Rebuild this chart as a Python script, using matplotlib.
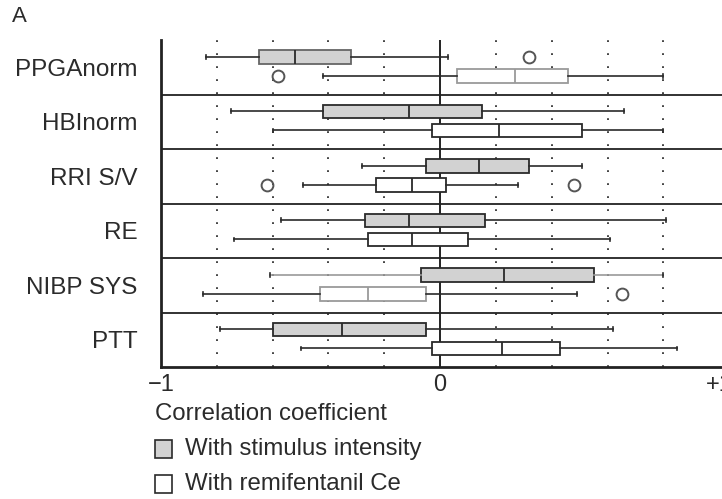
# boxplots of correlation coefficients, one pair of boxes per parameter
import matplotlib
matplotlib.use('Agg')
import matplotlib.pyplot as plt
from matplotlib.patches import Rectangle

plt.rcParams['font.family'] = ['Liberation Sans', 'DejaVu Sans']

# data
parametros = ['PPGAnorm', 'HBInorm', 'RRI S/V', 'RE', 'NIBP SYS', 'PTT']

# with stimulus intensity (gray): whisker low, q1, median, q3, whisker high
estim_wlo = [-0.84, -0.75, -0.28, -0.57, -0.61, -0.79]
estim_q1 = [-0.65, -0.42, -0.05, -0.27, -0.07, -0.60]
estim_med = [-0.52, -0.11, 0.14, -0.11, 0.23, -0.35]
estim_q3 = [-0.32, 0.15, 0.32, 0.16, 0.55, -0.05]
estim_whi = [0.03, 0.66, 0.51, 0.81, 0.80, 0.62]
estim_fliers = [[0.32], [], [], [], [], []]

# with remifentanil Ce (white)
remi_wlo = [-0.42, -0.60, -0.49, -0.74, -0.85, -0.50]
remi_q1 = [0.06, -0.03, -0.23, -0.26, -0.43, -0.03]
remi_med = [0.27, 0.21, -0.10, -0.10, -0.26, 0.22]
remi_q3 = [0.46, 0.51, 0.02, 0.10, -0.05, 0.43]
remi_whi = [0.80, 0.80, 0.28, 0.61, 0.49, 0.85]
remi_fliers = [[-0.58], [], [-0.62, 0.48], [], [0.65], []]

rejilla = [-0.8, -0.6, -0.4, -0.2, 0.2, 0.4, 0.6, 0.8]

gris = '#d2d2d2'
oscuro = '#2a2a2a'
texto = '#2b2b2b'


def hacer_stats(wlo, q1, med, q3, whi, fl):
    return [dict(whislo=a, q1=b, med=c, q3=d, whishi=e, fliers=f)
            for a, b, c, d, e, f in zip(wlo, q1, med, q3, whi, fl)]


fig = plt.figure(figsize=(7.22, 4.99), dpi=100)
ax = fig.add_axes([161 / 722, 132 / 499, 561 / 722, 327 / 499])

n = len(parametros)
pos_estim = [k - 0.19 for k in range(n)]
pos_remi = [k + 0.16 for k in range(n)]

estilo_flier = dict(marker='o', markersize=8.5, markerfacecolor='none',
                    markeredgecolor='#555555', markeredgewidth=1.4)

b1 = ax.bxp(hacer_stats(estim_wlo, estim_q1, estim_med, estim_q3, estim_whi, estim_fliers),
            positions=pos_estim, widths=0.25, vert=False, patch_artist=True,
            boxprops=dict(facecolor=gris, edgecolor=oscuro, linewidth=1.3),
            medianprops=dict(color=oscuro, linewidth=1.3),
            whiskerprops=dict(color=oscuro, linewidth=1.2),
            capprops=dict(color=oscuro, linewidth=1.2), capwidths=0.07,
            flierprops=estilo_flier, zorder=3)
b2 = ax.bxp(hacer_stats(remi_wlo, remi_q1, remi_med, remi_q3, remi_whi, remi_fliers),
            positions=pos_remi, widths=0.25, vert=False, patch_artist=True,
            boxprops=dict(facecolor='white', edgecolor=oscuro, linewidth=1.3),
            medianprops=dict(color=oscuro, linewidth=1.3),
            whiskerprops=dict(color=oscuro, linewidth=1.2),
            capprops=dict(color=oscuro, linewidth=1.2), capwidths=0.07,
            flierprops=estilo_flier, zorder=3)

# algunos trazos salen más claros en el original
b1['boxes'][0].set_edgecolor('#666666')
b2['boxes'][0].set_edgecolor('#9a9a9a')
b2['medians'][0].set_color('#9a9a9a')
b2['boxes'][4].set_edgecolor('#9a9a9a')
b2['medians'][4].set_color('#9a9a9a')
for w in b1['whiskers'][8:10]:
    w.set_color('#999999')

# rejilla punteada, línea del cero y separadores
for g in rejilla:
    ax.axvline(g, color='#333333', linewidth=1.3, linestyle=(0, (1, 6.2)), zorder=1)
ax.axvline(0, color='#111111', linewidth=1.3, zorder=2)
for k in range(n - 1):
    ax.axhline(k + 0.5, color='#222222', linewidth=1.3, zorder=2)

ax.set_xlim(-1, 1.01)
ax.set_ylim(n - 0.5, -0.5)
ax.set_yticks(range(n))
ax.set_yticklabels(parametros, fontsize=17.5)
ax.set_xticks([-1, 0, 1])
ax.set_xticklabels(['\u22121', '0', '+1'], fontsize=17)
ax.tick_params(length=0, pad=5, colors=texto)
ax.tick_params(axis='y', pad=17)
ax.spines['top'].set_visible(False)
ax.spines['right'].set_visible(False)
ax.spines['left'].set_linewidth(2)
ax.spines['bottom'].set_linewidth(2)
ax.spines['left'].set_color('#222222')
ax.spines['bottom'].set_color('#222222')

fig.text(12 / 722, 1 - 17 / 499, 'A', fontsize=16, va='center', ha='left', color=texto)

# leyenda dibujada a mano
fig.text(155 / 722, 1 - 414 / 499, 'Correlation coefficient', fontsize=17.3,
         va='center', ha='left', color=texto)
for yy, col, txt in [(449, gris, 'With stimulus intensity'), (484, 'white', 'With remifentanil Ce')]:
    fig.patches.append(Rectangle((155 / 722, 1 - (yy + 9) / 499), 17 / 722, 18 / 499,
                                 transform=fig.transFigure, facecolor=col,
                                 edgecolor=oscuro, linewidth=1.2))
    fig.text(185 / 722, 1 - yy / 499, txt, fontsize=17.3, va='center', ha='left', color=texto)

fig.savefig('out.png', dpi=100)
